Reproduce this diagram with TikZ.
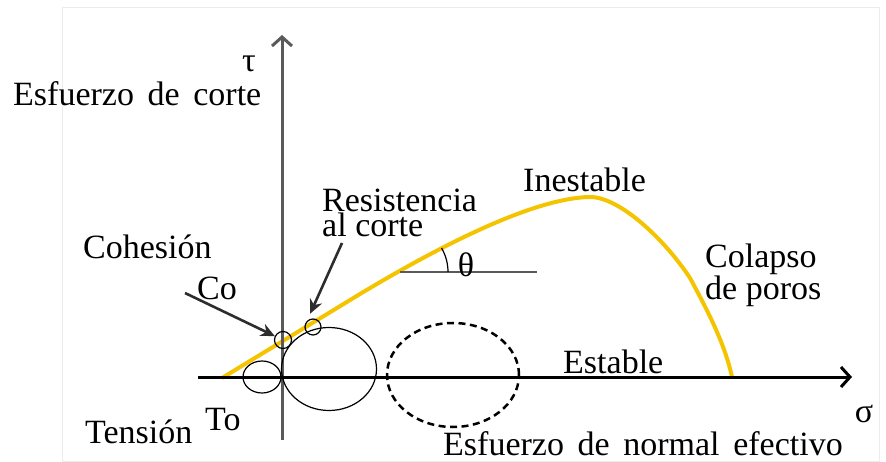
\documentclass[tikz,border=0pt]{standalone}
\usepackage{fontspec}
\setmainfont{Liberation Serif}
\newfontfamily\widesp{Liberation Serif}[WordSpace=1.6]
\usetikzlibrary{arrows.meta,shapes.geometric}
\definecolor{curveY}{RGB}{245,196,0}
\definecolor{axgray}{RGB}{90,90,90}
\definecolor{arrgray}{RGB}{45,45,45}
\begin{document}
\begin{tikzpicture}[x=1pt,y=-1pt,
  lbl/.style={font=\fontsize{34}{34}\selectfont, inner sep=0pt, anchor=base west},
  widelbl/.style={lbl, font=\fontsize{34}{34}\selectfont\widesp},
  twolbl/.style={lbl, align=left, font=\fontsize{34}{25.5}\selectfont},
  thincirc/.style={draw, line width=1.2pt, inner sep=0pt},
  callout/.style={draw=arrgray, line width=2.6pt, -{Stealth[length=14pt,width=13pt]}},
  axisarrow/.style={line width=3pt, -{Straight Barb[length=9pt,width=20pt]}}]
\useasboundingbox (0,0) rectangle (886,462);
\draw[gray!15, line width=1pt] (62,8) rectangle (879,461);

% yellow failure envelope
\draw[curveY, line width=4pt] (222,378) -- (360,294)
  .. controls (430,252) and (530,198) .. (590,197)
  .. controls (620,197) and (665,240) .. (690,278)
  .. controls (710,315) and (725,345) .. (732,377);

% axes
\coordinate (vB) at (282,440);
\coordinate (vT) at (282,35);
\coordinate (hL) at (198,377);
\coordinate (hR) at (852,377);
\draw[axisarrow, draw=axgray] (vB) -- (vT);
\draw[axisarrow, draw=black] (hL) -- (hR);

% theta
\coordinate (thO) at (400,272);
\coordinate (thE) at (537,272);
\draw[line width=1.2pt, draw=axgray] (thO) -- (thE);
\draw[line width=1.2pt] (448,272) arc[start angle=0, end angle=30, radius=48pt];

% circles
\node[thincirc, ellipse, minimum width=38pt, minimum height=32pt] (cT) at (262,377) {};
\node[thincirc, ellipse, minimum width=95pt, minimum height=83pt] (cBig) at (329,369) {};
\node[ellipse, draw, line width=2.5pt, dash pattern=on 7pt off 4.5pt, inner sep=0pt,
      minimum width=132pt, minimum height=104pt] (cDash) at (453,375) {};
\node[thincirc, circle, minimum size=17pt] (co) at (283,340) {};
\node[thincirc, circle, minimum size=16pt] (cr) at (313,327) {};

% callout arrows
\coordinate (coS) at (185,293);
\coordinate (rS) at (342,243);
\draw[callout] (coS) -- (co);
\draw[callout, shorten >=8pt] (rS) -- (cr.north west);

% labels
\node[lbl, anchor=base] (tau) at (249,72) {τ};
\node[widelbl] (ecorte) at (13,106) {Esfuerzo de corte};
\node[lbl] (coh) at (83,259) {Cohesión};
\node[lbl] (colbl) at (197,299) {Co};
\node[twolbl] (res) at (322,237) {Resistencia\\al corte};
\node[lbl] (inest) at (523,192) {Inestable};
\node[lbl, anchor=base] (theta) at (466,277) {θ};
\node[twolbl] (col) at (705,299) {Colapso\\de poros};
\node[lbl] (estab) at (563,373) {Estable};
\node[lbl, anchor=base] (sigma) at (864,422) {σ};
\node[widelbl] (enorm) at (443,455) {Esfuerzo de normal efectivo};
\node[lbl] (tens) at (85,443) {Tensión};
\node[lbl] (tolbl) at (205,430) {To};
\end{tikzpicture}
\end{document}
